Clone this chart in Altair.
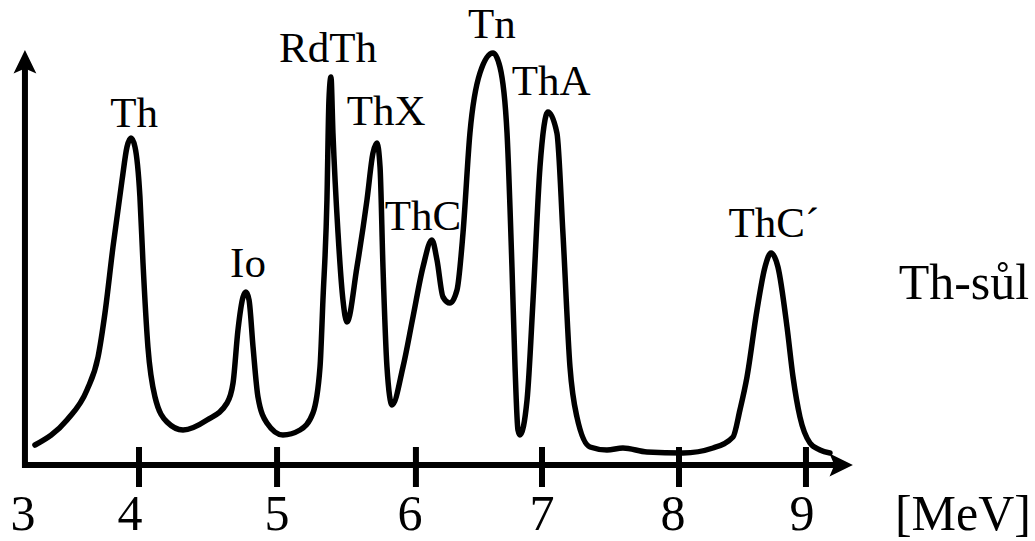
import altair as alt
import pandas as pd

# ---- spectrum curve (energy in MeV, relative counts) ----
energy = [3.220, 3.460, 3.610, 3.693, 3.745, 3.805, 3.873, 3.910, 3.940, 3.970,
          4.007, 4.030, 4.067, 4.120, 4.210, 4.330, 4.510, 4.660, 4.705, 4.742,
          4.780, 4.802, 4.825, 4.855, 4.892, 4.959, 5.079, 5.207, 5.304, 5.357,
          5.379, 5.409, 5.424, 5.439, 5.454, 5.492, 5.529, 5.559, 5.634, 5.709,
          5.754, 5.784, 5.807, 5.829, 5.859, 5.897, 5.979, 6.054, 6.129, 6.196,
          6.234, 6.279, 6.331, 6.384, 6.429, 6.481, 6.556, 6.654, 6.706, 6.759,
          6.796, 6.819, 6.841, 6.856, 6.909, 6.954, 7.006, 7.066, 7.133, 7.178,
          7.231, 7.283, 7.381, 7.508, 7.628, 7.808, 8.078, 8.303, 8.453, 8.505,
          8.558, 8.633, 8.693, 8.738, 8.790, 8.858, 8.903, 8.955, 9.030, 9.105,
          9.180]
counts = [20, 45, 75, 108, 152, 218, 285, 318, 327, 318,
          268, 202, 118, 68, 43, 35, 45, 62, 82, 135,
          168, 173, 165, 118, 68, 42, 30, 35, 52, 98,
          165, 265, 365, 388, 332, 232, 165, 143, 198, 265,
          312, 322, 298, 198, 98, 60, 98, 148, 198, 225,
          205, 168, 162, 175, 232, 332, 392, 412, 398, 332,
          198, 98, 35, 30, 65, 165, 298, 353, 332, 232,
          98, 48, 18, 15, 17, 13, 12, 17, 28, 55,
          88, 155, 198, 212, 198, 138, 88, 48, 22, 15,
          12]

# ---- peak labels ----
peak_names = ["Th", "Io", "RdTh", "ThX", "ThC", "Tn", "ThA", "ThC\u00b4"]
peak_x = [3.963, 4.817, 5.417, 5.852, 6.129, 6.646, 7.089, 8.760]
peak_y = [338, 188, 403, 340, 235, 427, 370, 228]

# ---- axis ticks and labels ----
tick_values = [4.0, 5.035, 6.076, 7.021, 8.048, 9.0]
tick_labels = ["3", "4", "5", "6", "7", "8", "9"]
tick_label_x = [3.130, 3.933, 5.035, 6.031, 7.021, 8.003, 8.970]

# axis geometry (data units)
X_DOMAIN = [2.958, 10.717]
Y_DOMAIN = [-76, 465]
Y_AXIS_X = 3.145
Y_AXIS_TOP = 405
X_AXIS_END = 9.255
UP_ARROW_Y = 403
RIGHT_ARROW_X = 9.262
TICK_TOP, TICK_BOTTOM = 18, -22
LABEL_BASE = -65
UNIT_X, UNIT_Y = 10.177, -65
SAMPLE_X, SAMPLE_Y = 10.184, 166

FONT = "Liberation Serif"

xs = alt.Scale(domain=X_DOMAIN, nice=False, zero=False)
ys = alt.Scale(domain=Y_DOMAIN, nice=False, zero=False)


def X(f="x"):
    return alt.X(f + ":Q", scale=xs, axis=None)


def Y(f="y"):
    return alt.Y(f + ":Q", scale=ys, axis=None)


curve_df = pd.DataFrame({"x": energy, "y": counts})
curve = alt.Chart(curve_df).mark_line(
    color="black", strokeWidth=5.5, interpolate="monotone", strokeCap="round", strokeJoin="round"
).encode(x=X(), y=Y())

axes_df = pd.DataFrame({
    "x": [Y_AXIS_X, Y_AXIS_X, X_AXIS_END],
    "y": [Y_AXIS_TOP, 0, 0],
    "o": [0, 1, 2],
})
axes = alt.Chart(axes_df).mark_line(
    color="black", strokeWidth=6, strokeJoin="miter", strokeCap="butt"
).encode(x=X(), y=Y(), order="o:O")

arrow_path = "M0,-1L0.95,0.95L0,0.55L-0.95,0.95Z"
arrows_df = pd.DataFrame({
    "x": [Y_AXIS_X, RIGHT_ARROW_X],
    "y": [UP_ARROW_Y, 0],
    "a": [0, 90],
})
arrows = alt.Chart(arrows_df).mark_point(
    shape=arrow_path, filled=True, color="black", size=576, opacity=1, strokeWidth=0
).encode(x=X(), y=Y(), angle=alt.Angle("a:Q", scale=None))

ticks_df = pd.DataFrame({
    "x": tick_values,
    "y": [TICK_TOP] * len(tick_values),
    "y2": [TICK_BOTTOM] * len(tick_values),
})
ticks = alt.Chart(ticks_df).mark_rule(color="black", strokeWidth=6).encode(
    x=X(), y=Y(), y2="y2:Q"
)

tl_df = pd.DataFrame({"x": tick_label_x, "y": [LABEL_BASE] * len(tick_labels), "t": tick_labels})
tick_text = alt.Chart(tl_df).mark_text(
    font=FONT, fontSize=50, baseline="alphabetic", align="center", color="black"
).encode(x=X(), y=Y(), text="t:N")

pk_df = pd.DataFrame({"x": peak_x, "y": peak_y, "t": peak_names})
peak_text = alt.Chart(pk_df).mark_text(
    font=FONT, fontSize=43, baseline="alphabetic", align="center", color="black"
).encode(x=X(), y=Y(), text="t:N")

extra_df = pd.DataFrame({
    "x": [UNIT_X, SAMPLE_X],
    "y": [UNIT_Y, SAMPLE_Y],
    "t": ["[MeV]", "Th-s\u016fl"],
})
extra_text = alt.Chart(extra_df).mark_text(
    font=FONT, fontSize=50, baseline="alphabetic", align="center", color="black"
).encode(x=X(), y=Y(), text="t:N")

chart = alt.layer(
    axes, ticks, arrows, curve, tick_text, peak_text, extra_text
).properties(
    width=1035, height=541,
    autosize=alt.AutoSizeParams(type="none"),
    padding=0,
    background="white",
).configure_view(stroke=None)

chart.save("out.html", embed_options={"renderer": "svg", "actions": False})
